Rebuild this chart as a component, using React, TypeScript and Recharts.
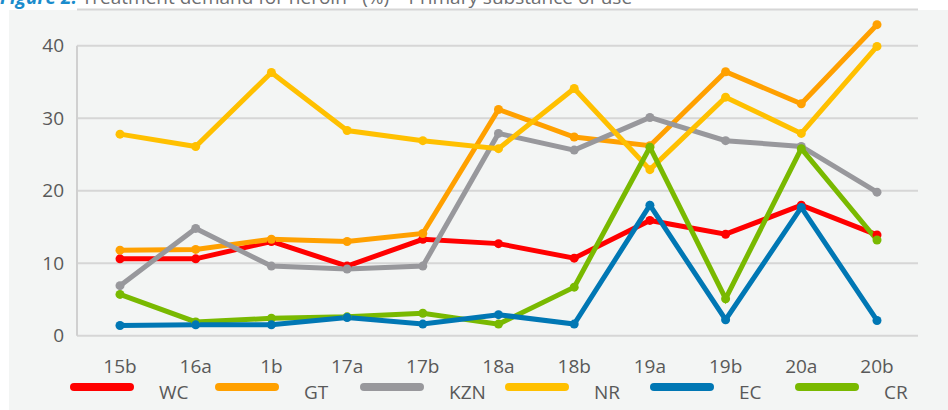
import { LineChart, Line, XAxis, YAxis, CartesianGrid } from "recharts";

const periods = ["15b", "16a", "1b", "17a", "17b", "18a", "18b", "19a", "19b", "20a", "20b"];

const wc = [10.6, 10.6, 13.0, 9.6, 13.3, 12.7, 10.7, 15.9, 14.0, 18.0, 13.9];
const gt = [11.8, 11.9, 13.3, 13.0, 14.1, 31.2, 27.4, 26.2, 36.4, 32.0, 42.9];
const kzn = [6.9, 14.8, 9.6, 9.2, 9.6, 27.9, 25.6, 30.1, 26.9, 26.1, 19.8];
const nr = [27.8, 26.1, 36.3, 28.3, 26.9, 25.8, 34.1, 22.9, 32.9, 27.9, 39.9];
const ec = [1.4, 1.5, 1.5, 2.5, 1.6, 2.9, 1.6, 18.0, 2.2, 17.7, 2.1];
const cr = [5.7, 1.9, 2.4, 2.6, 3.1, 1.6, 6.7, 26.0, 5.1, 25.8, 13.2];

const yTicks = [0, 10, 20, 30, 40];

const series = [
  { key: "WC", values: wc, color: "#ff0000" },
  { key: "GT", values: gt, color: "#ffa000" },
  { key: "KZN", values: kzn, color: "#98989c" },
  { key: "NR", values: nr, color: "#ffc000" },
  { key: "CR", values: cr, color: "#79b900" },
  { key: "EC", values: ec, color: "#0077b4" },
];

const legendOrder = ["WC", "GT", "KZN", "NR", "EC", "CR"];

const data = periods.map((p, i) => {
  const row: Record<string, string | number> = { period: p };
  series.forEach((s) => {
    row[s.key] = s.values[i];
  });
  return row;
});

const FONT = "'Open Sans', 'Noto Sans', sans-serif";
const TEXT = "#595959";

const XTick = (props: any) => {
  const { x, y, payload } = props;
  return (
    <text x={x} y={y + 37.5} textAnchor="middle" fontSize={19} fill={TEXT} fontFamily={FONT}>
      {payload.value}
    </text>
  );
};

export default function App() {
  return (
    <div
      style={{
        position: "absolute",
        left: 0,
        top: 0,
        width: 948,
        height: 410,
        overflow: "hidden",
        background: "#fff",
        fontFamily: FONT,
      }}
    >
      {/* titre coupé en haut, comme sur l'original */}
      <div
        style={{
          position: "absolute",
          left: 0,
          top: -12,
          fontSize: 19,
          lineHeight: "19px",
          whiteSpace: "nowrap",
          color: "#6d6e71",
        }}
      >
        <span style={{ color: "#1b8ccc", fontWeight: 700, fontStyle: "italic" }}>Figure 2:</span>
        {"  "}Treatment demand for heroin* (%) – Primary substance of use
      </div>
      <div
        style={{
          position: "absolute",
          left: 9,
          top: 10,
          right: 0,
          bottom: 0,
          background: "#f3f5f4",
        }}
      />
      <div style={{ position: "absolute", left: 0, top: 0 }}>
        <LineChart
          width={948}
          height={410}
          data={data}
          margin={{ top: 9.45, right: 30, bottom: 44.3, left: 17 }}
        >
          <CartesianGrid vertical={false} stroke="#d6d6d6" strokeWidth={2} />
          <XAxis
            dataKey="period"
            height={30}
            padding={{ left: 43, right: 41 }}
            axisLine={false}
            tickLine={false}
            tickSize={0}
            tickMargin={0}
            interval={0}
            tick={<XTick />}
          />
          <YAxis
            width={60}
            domain={[0, 45]}
            ticks={yTicks}
            axisLine={{ stroke: "#d0d0d0", strokeWidth: 2, strokeDasharray: "0 36.25 290.5 1000" }}
            tickLine={false}
            tickSize={0}
            tickMargin={13}
            tick={{ fontSize: 19, fill: TEXT, fontFamily: FONT }}
          />
          {series.map((s) => (
            <Line
              key={s.key}
              dataKey={s.key}
              type="linear"
              stroke={s.color}
              strokeWidth={5}
              dot={{ r: 4.5, fill: s.color, stroke: s.color, strokeWidth: 0 }}
              activeDot={false}
              isAnimationActive={false}
            />
          ))}
        </LineChart>
      </div>
      {/* légende */}
      <div
        style={{
          position: "absolute",
          left: 70,
          top: 376,
          display: "flex",
          fontSize: 19,
          color: TEXT,
        }}
      >
        {legendOrder.map((k) => {
          const s = series.find((x) => x.key === k)!;
          return (
            <div key={k} style={{ width: 145, display: "flex", alignItems: "center", height: 28 }}>
              <div
                style={{
                  width: 64,
                  height: 8,
                  borderRadius: 4,
                  background: s.color,
                  marginTop: -7,
                }}
              />
              <span style={{ marginLeft: 25, marginTop: 3 }}>{k}</span>
            </div>
          );
        })}
      </div>
    </div>
  );
}
